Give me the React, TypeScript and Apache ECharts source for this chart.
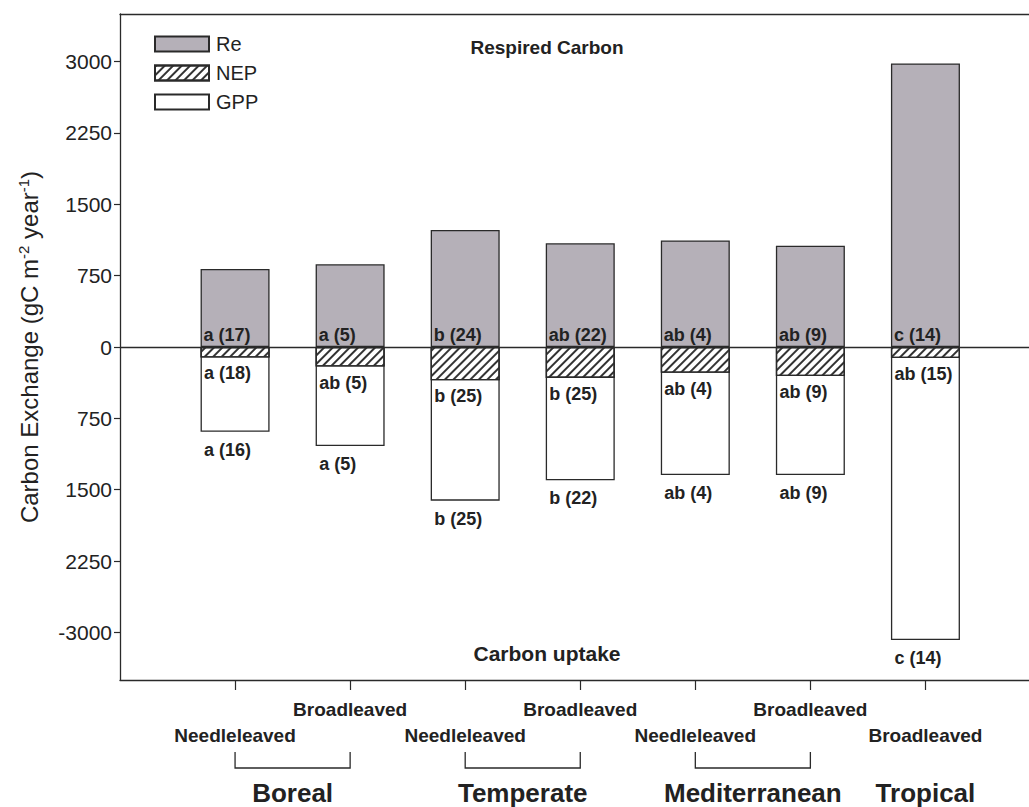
import React, { useEffect, useRef } from "react";
import * as echarts from "echarts";

const positions = [1, 2, 3, 4, 5, 6, 7];
const leafTypes = ["Needleleaved", "Broadleaved", "Needleleaved", "Broadleaved", "Needleleaved", "Broadleaved", "Broadleaved"];
const labelRows = [2, 1, 2, 1, 2, 1, 2];
const biomes = ["Boreal", "Temperate", "Mediterranean", "Tropical"];
const biomePositions = [1.5, 3.5, 5.5, 7];
const bracketRanges = [[1, 2], [3, 4], [5, 6]];
const reValues = [820, 870, 1230, 1090, 1120, 1065, 2980];
const nepValues = [110, 205, 350, 325, 270, 305, 115];
const gppValues = [890, 1040, 1615, 1400, 1345, 1345, 3080];
const reLetters = ["a (17)", "a (5)", "b (24)", "ab (22)", "ab (4)", "ab (9)", "c (14)"];
const nepLetters = ["a (18)", "ab (5)", "b (25)", "b (25)", "ab (4)", "ab (9)", "ab (15)"];
const gppLetters = ["a (16)", "a (5)", "b (25)", "b (22)", "ab (4)", "ab (9)", "c (14)"];
const yTicks = [-3000, -2250, -1500, -750, 0, 750, 1500, 2250, 3000];

const FONT = "Liberation Sans";
const INK = "#222";
const LINE = "#2a2a2a";
const X_MAX = 7.9;

export default function App() {
  const ref = useRef<HTMLDivElement>(null);
  useEffect(() => {
    if (!ref.current) return;
    const chart = echarts.init(ref.current, undefined, { renderer: "svg" });
    const barBase = {
      type: "bar",
      barWidth: 69,
      barGap: "-100%",
      xAxisIndex: 0,
      yAxisIndex: 0,
    };
    const letterLabel = {
      show: true,
      fontFamily: FONT,
      fontSize: 18,
      fontWeight: "bold",
      color: INK,
    };
    const labelAxis = (values: number[], names: string[], margin: number, fontSize: number) => ({
      type: "value",
      min: 0,
      max: X_MAX,
      position: "bottom",
      axisLine: { show: false },
      axisTick: { show: false },
      splitLine: { show: false },
      axisLabel: {
        customValues: values,
        margin,
        showMinLabel: true,
        showMaxLabel: true,
        formatter: (v: number) => {
          const i = values.indexOf(v);
          return i < 0 ? "" : names[i];
        },
        fontFamily: FONT,
        fontSize,
        fontWeight: "bold",
        color: INK,
        lineHeight: fontSize + 4,
      },
    });
    const row1Pos = positions.filter((_, i) => labelRows[i] === 1);
    const row1Names = leafTypes.filter((_, i) => labelRows[i] === 1);
    const row2Pos = positions.filter((_, i) => labelRows[i] === 2);
    const row2Names = leafTypes.filter((_, i) => labelRows[i] === 2);
    chart.setOption({
      animation: false,
      backgroundColor: "#fff",
      grid: { left: 120, right: 0, top: 14, bottom: 127, containLabel: false, outerBoundsMode: "none" },
      legend: {
        data: ["Re", "NEP", "GPP"],
        orient: "vertical",
        left: 154,
        top: 34,
        padding: 0,
        itemWidth: 54,
        itemHeight: 15,
        itemGap: 9,
        icon: "rect",
        selectedMode: false,
        textStyle: { fontFamily: FONT, fontSize: 20, color: INK, padding: [0, 0, 0, 2] },
      },
      xAxis: [
        {
          type: "value",
          min: 0,
          max: X_MAX,
          position: "bottom",
          axisLine: { show: true, onZero: false, lineStyle: { color: LINE, width: 1.3 } },
          axisTick: { show: true, customValues: positions, length: 10, lineStyle: { color: LINE, width: 1.2 } },
          splitLine: { show: false },
          axisLabel: { show: false, customValues: positions },
        },
        {
          type: "value",
          min: 0,
          max: X_MAX,
          position: "top",
          axisLine: { show: true, onZero: false, lineStyle: { color: LINE, width: 1.3 } },
          axisTick: { show: false },
          axisLabel: { show: false },
          splitLine: { show: false },
        },
        labelAxis(row1Pos, row1Names, 18, 19),
        labelAxis(row2Pos, row2Names, 44, 19),
        labelAxis(biomePositions, biomes, 98, 26),
      ],
      yAxis: {
        type: "value",
        min: -3500,
        max: 3500,
        axisLine: { show: true, onZero: false, lineStyle: { color: LINE, width: 1.3 } },
        axisTick: { show: true, customValues: yTicks, length: 6, lineStyle: { color: LINE, width: 1.2 } },
        splitLine: { show: false },
        axisLabel: {
          customValues: yTicks,
          margin: 8,
          showMinLabel: true,
          showMaxLabel: true,
          fontFamily: FONT,
          fontSize: 21,
          color: INK,
          formatter: (v: number) => (v === -3000 ? "-3000" : String(Math.abs(v))),
        },
        name: "{n|Carbon Exchange (gC m}{s|-2}{n| year}{s|-1}{n|)}",
        nameLocation: "middle",
        nameGap: 77,
        nameTextStyle: {
          rich: {
            n: { fontFamily: FONT, fontSize: 24, color: INK, lineHeight: 27 },
            s: { fontFamily: FONT, fontSize: 15, color: INK, verticalAlign: "top", lineHeight: 15 },
          },
        },
      },
      series: [
        {
          ...barBase,
          name: "Re",
          data: positions.map((x, i) => [x, reValues[i]]),
          itemStyle: { color: "#b5b0b8", borderColor: LINE, borderWidth: 1.3 },
          label: {
            ...letterLabel,
            position: "insideBottomLeft",
            distance: 3,
            formatter: (p: any) => reLetters[p.dataIndex],
          },
          markLine: {
            silent: true,
            symbol: "none",
            label: { show: false },
            lineStyle: { color: LINE, width: 1.3, type: "solid" },
            data: [{ yAxis: 0 }],
          },
        },
        {
          ...barBase,
          name: "GPP",
          data: positions.map((x, i) => [x, -gppValues[i]]),
          itemStyle: { color: "#ffffff", borderColor: LINE, borderWidth: 1.3 },
          label: {
            ...letterLabel,
            position: "bottom",
            distance: 9,
            align: "left",
            offset: [-31, 0],
            formatter: (p: any) => gppLetters[p.dataIndex],
          },
        },
        {
          ...barBase,
          name: "NEP",
          data: positions.map((x, i) => [x, -nepValues[i]]),
          itemStyle: {
            color: "#ffffff",
            borderColor: LINE,
            borderWidth: 1.3,
            decal: {
              symbol: "rect",
              symbolSize: 1,
              dashArrayX: [1, 0],
              dashArrayY: [1.4, 4],
              rotation: -Math.PI / 4,
              color: "#333",
            },
          },
          label: {
            ...letterLabel,
            position: "bottom",
            distance: 7,
            align: "left",
            offset: [-31, 0],
            formatter: (p: any) => nepLetters[p.dataIndex],
          },
        },
      ],
    });

    const px = (v: number) => chart.convertToPixel({ xAxisIndex: 0 }, v) as number;
    const graphics: any[] = bracketRanges.map(([a, b]) => ({
      type: "polyline",
      silent: true,
      shape: { points: [[px(a), 752], [px(a), 768], [px(b), 768], [px(b), 752]] },
      style: { stroke: LINE, lineWidth: 1.3, fill: null },
    }));
    graphics.push({
      type: "text",
      x: 547,
      y: 47,
      style: { text: "Respired Carbon", fontFamily: FONT, fontSize: 19, fontWeight: "bold", fill: INK, align: "center", verticalAlign: "middle" },
    });
    graphics.push({
      type: "text",
      x: 547,
      y: 653,
      style: { text: "Carbon uptake", fontFamily: FONT, fontSize: 21, fontWeight: "bold", fill: INK, align: "center", verticalAlign: "middle" },
    });
    chart.setOption({ graphic: graphics });

    return () => chart.dispose();
  }, []);
  return <div ref={ref} style={{ position: "fixed", left: 0, top: 0, width: 1029, height: 807 }} />;
}
